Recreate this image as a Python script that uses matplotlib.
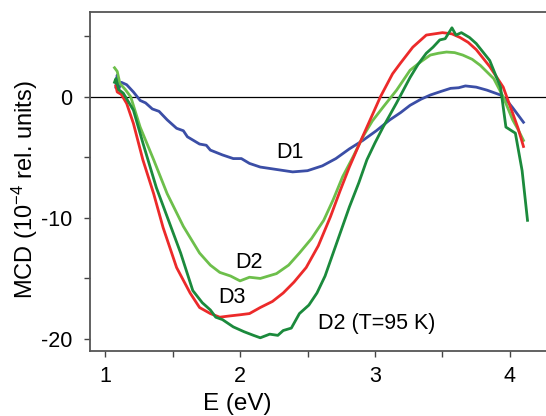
import numpy as np
import matplotlib
matplotlib.use('Agg')
import matplotlib.pyplot as plt
from matplotlib.ticker import MultipleLocator

plt.rcParams.update({'font.family': ['Liberation Sans', 'DejaVu Sans'],
                     'font.size': 15,
                     'axes.unicode_minus': False,
                     'mathtext.fontset': 'custom',
                     'mathtext.rm': 'Liberation Sans',
                     'mathtext.it': 'Liberation Sans:italic'})

# D1 (blue)
d1_x = [1.08, 1.09, 1.10, 1.12, 1.16, 1.21, 1.26, 1.30, 1.35, 1.40, 1.46, 1.53, 1.58, 1.61, 1.70,
        1.75, 1.78, 1.87, 1.95, 2.01, 2.07, 2.15, 2.27, 2.39, 2.50, 2.61, 2.71, 2.81, 2.91, 3.01,
        3.11, 3.19, 3.26, 3.34, 3.41, 3.49, 3.56, 3.62, 3.67, 3.75, 3.83, 3.93, 3.98, 4.02, 4.06, 4.10]
d1_y = [0.8, 1.8, 0.6, 1.2, 1.0, 0.4, -0.3, -0.5, -1.0, -1.2, -1.9, -2.6, -2.8, -3.3, -3.9,
        -4.0, -4.4, -4.8, -5.1, -5.1, -5.5, -5.8, -6.0, -6.2, -6.1, -5.7, -5.1, -4.3, -3.6, -2.8,
        -1.9, -1.3, -0.7, -0.2, 0.15, 0.45, 0.7, 0.75, 0.9, 0.8, 0.55, 0.15, -0.35, -0.9, -1.5, -2.1]

# D2 (light green)
d2_x = [1.07, 1.09, 1.11, 1.15, 1.19, 1.26, 1.36, 1.46, 1.58, 1.70, 1.78, 1.85, 1.93, 2.00,
        2.07, 2.15, 2.27, 2.36, 2.44, 2.53, 2.62, 2.69, 2.76, 2.84, 2.91, 2.98, 3.06, 3.16,
        3.26, 3.34, 3.41, 3.47, 3.53, 3.59, 3.65, 3.72, 3.78, 3.88, 3.95, 4.02, 4.06, 4.10]
d2_y = [2.4, 2.1, 1.1, 0.6, 0.0, -2.5, -5.2, -8.0, -10.7, -12.9, -13.9, -14.5, -14.8, -15.2,
        -14.9, -15.0, -14.6, -13.9, -12.9, -11.7, -10.2, -8.5, -6.6, -4.9, -3.3, -2.0, -0.85, 0.55,
        2.2, 2.9, 3.45, 3.6, 3.7, 3.65, 3.45, 3.1, 2.6, 1.5, 0.0, -1.9, -2.7, -3.6]

# D3 (red)
d3_x = [1.08, 1.09, 1.12, 1.16, 1.21, 1.28, 1.36, 1.43, 1.53, 1.63, 1.70, 1.78, 1.85, 1.92,
        2.00, 2.07, 2.15, 2.24, 2.32, 2.40, 2.49, 2.58, 2.67, 2.74, 2.81, 2.88, 2.94, 3.04,
        3.13, 3.19, 3.28, 3.38, 3.44, 3.50, 3.57, 3.63, 3.69, 3.75, 3.85, 3.95, 4.02, 4.06, 4.10]
d3_y = [0.9, 0.4, 0.2, -0.55, -2.2, -5.2, -8.0, -10.8, -14.1, -16.2, -17.4, -17.9, -18.2, -18.1,
        -18.0, -17.9, -17.4, -16.9, -16.2, -15.3, -14.1, -12.3, -9.9, -7.8, -5.8, -4.0, -2.5, 0.0,
        1.9, 2.8, 4.1, 5.1, 5.2, 5.3, 5.2, 4.9, 4.5, 3.9, 2.5, 0.8, -1.35, -2.6, -4.1]

# D2, T=95 K (dark green)
d2t_x = [1.07, 1.08, 1.10, 1.135, 1.21, 1.28, 1.38, 1.46, 1.56, 1.65, 1.72, 1.78, 1.82, 1.87,
         1.95, 2.03, 2.10, 2.15, 2.22, 2.28, 2.32, 2.38, 2.41, 2.44, 2.51, 2.57, 2.63, 2.69,
         2.75, 2.81, 2.88, 2.94, 3.00, 3.06, 3.16, 3.26, 3.32, 3.38, 3.43, 3.48, 3.52, 3.57,
         3.60, 3.64, 3.70, 3.75, 3.85, 3.93, 3.97, 4.04, 4.09, 4.13]
d2t_y = [1.2, 1.5, 0.6, 0.3, -1.1, -3.8, -7.5, -9.9, -12.9, -16.0, -17.0, -17.6, -18.2, -18.4,
         -19.0, -19.4, -19.7, -19.9, -19.6, -19.7, -19.3, -19.1, -18.5, -17.9, -17.2, -16.2, -14.8, -12.9,
         -11.0, -9.1, -7.1, -5.2, -3.8, -2.5, -0.5, 1.6, 2.7, 3.6, 4.1, 4.7, 4.8, 5.7,
         5.1, 5.3, 4.9, 4.4, 3.0, 0.8, -2.5, -3.0, -6.1, -10.2]

fig = plt.figure(figsize=(5.46, 4.16), dpi=100)
ax = fig.add_axes([0.165, 0.156, 0.835, 0.815])

ax.axhline(0, color='black', linewidth=0.9, zorder=1)
ax.plot(d1_x, d1_y, color='#3b4ea6', linewidth=2.0)
ax.plot(d2_x, d2_y, color='#6dbf4b', linewidth=2.0)
ax.plot(d3_x, d3_y, color='#ec2a2a', linewidth=2.0)
ax.plot(d2t_x, d2t_y, color='#1b8a3c', linewidth=2.0)

#curve labels
ax.text(2.37, -4.6, 'D1', fontsize=15.5, ha='center', va='center')
ax.text(2.07, -13.7, 'D2', fontsize=15.5, ha='center', va='center')
ax.text(1.94, -16.6, 'D3', fontsize=15.5, ha='center', va='center')
ax.text(3.01, -18.7, 'D2 (T=95 K)', fontsize=15.5, ha='center', va='center')

ax.set_xlim(0.889, 4.267)
ax.set_ylim(-21.0, 7.0)
ax.xaxis.set_major_locator(MultipleLocator(1))
ax.xaxis.set_minor_locator(MultipleLocator(0.5))
ax.yaxis.set_major_locator(MultipleLocator(10))
ax.yaxis.set_minor_locator(MultipleLocator(5))
ax.tick_params(which='both', direction='out', length=4, width=1.0, color='#444444')
ax.tick_params(axis='y', which='major', labelsize=15.5, pad=9)
ax.tick_params(axis='x', which='major', labelsize=15.5, pad=7)

ax.spines['right'].set_visible(False)
for s in ['left', 'top', 'bottom']:
    ax.spines[s].set_color('#555555')
    ax.spines[s].set_linewidth(1.3)

ax.set_xlabel('E (eV)', fontsize=17.5)
ax.set_ylabel('MCD (10$^{-4}$ rel. units)', fontsize=17)
ax.xaxis.set_label_coords(0.322, -0.125)
ax.yaxis.set_label_coords(-0.11, 0.475)

plt.savefig('out.png', dpi=100)
